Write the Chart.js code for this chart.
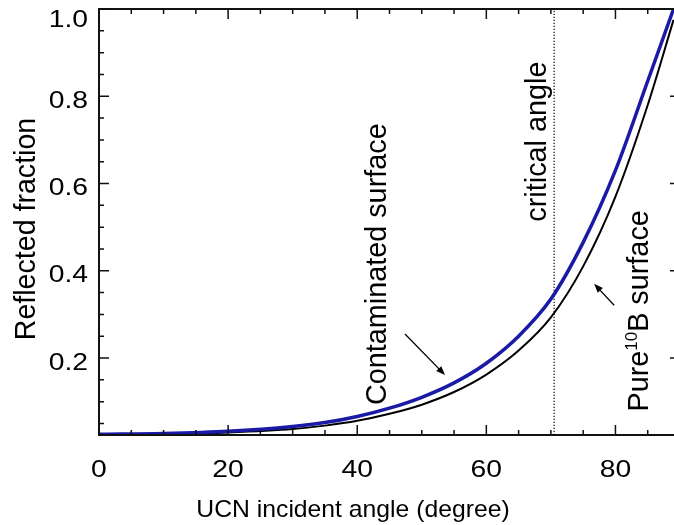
<!DOCTYPE html>
<html>
<head>
<meta charset="utf-8">
<script src="https://cdn.jsdelivr.net/npm/chart.js@4.4.1/dist/chart.umd.min.js"></script>
<style>
html,body{margin:0;padding:0;background:#fff;overflow:hidden;}
#wrap{width:690px;height:525px;}
</style>
</head>
<body>
<div id="wrap"><canvas id="c" width="690" height="525"></canvas></div>
<script>
// ---- data ----
const angles       = [0, 10, 20, 30, 35, 40, 45, 50, 55, 60, 65, 70, 75, 80, 85, 89];
const contaminated = [0.025, 0.027, 0.032, 0.043, 0.052, 0.066, 0.085, 0.110, 0.143, 0.188, 0.250, 0.335, 0.465, 0.630, 0.835, 1.000];
const pure10B      = [0.024, 0.025, 0.029, 0.037, 0.045, 0.056, 0.072, 0.093, 0.122, 0.162, 0.217, 0.293, 0.410, 0.570, 0.780, 0.975];
const criticalAngle = 70.5;
const xTickValues = [0, 20, 40, 60, 80];
const yTickValues = [0.2, 0.4, 0.6, 0.8, 1.0];
const xMinorStep = 5;
const yMinorStep = 0.05;
const xTitle = 'UCN incident angle (degree)';
const yTitle = 'Reflected fraction';

const FONT = '"Liberation Sans", Arial, Helvetica, sans-serif';

function drawArrow(ctx, x1, y1, x2, y2) {
  const ang = Math.atan2(y2 - y1, x2 - x1);
  const hl = 9, hw = 3.5;
  ctx.save();
  ctx.strokeStyle = '#000'; ctx.fillStyle = '#000'; ctx.lineWidth = 1.3;
  ctx.beginPath(); ctx.moveTo(x1, y1);
  ctx.lineTo(x2 - Math.cos(ang) * hl * 0.8, y2 - Math.sin(ang) * hl * 0.8); ctx.stroke();
  ctx.translate(x2, y2); ctx.rotate(ang);
  ctx.beginPath(); ctx.moveTo(0, 0); ctx.lineTo(-hl, -hw); ctx.lineTo(-hl, hw); ctx.closePath(); ctx.fill();
  ctx.restore();
}

function rotatedText(ctx, parts, bx, cy, size) {
  ctx.save();
  ctx.translate(bx, cy);
  ctx.rotate(-Math.PI / 2);
  ctx.fillStyle = '#000';
  ctx.textBaseline = 'alphabetic';
  ctx.textAlign = 'left';
  let total = 0;
  parts.forEach(p => {
    ctx.font = (p.sup ? Math.round(size * 0.6) : size) + 'px ' + FONT;
    p.w = ctx.measureText(p.t).width; total += p.w;
  });
  let x = -total / 2;
  parts.forEach(p => {
    ctx.font = (p.sup ? Math.round(size * 0.6) : size) + 'px ' + FONT;
    ctx.fillText(p.t, x, p.sup ? -size * 0.38 : 0);
    x += p.w;
  });
  ctx.restore();
}

// text with a slight horizontal stretch (reference glyphs are wider)
function wideText(ctx, text, x, y, size, align, stretch) {
  ctx.save();
  ctx.translate(x, y);
  ctx.scale(stretch, 1);
  ctx.font = size + 'px ' + FONT;
  ctx.fillStyle = '#000';
  ctx.textAlign = align;
  ctx.textBaseline = 'alphabetic';
  ctx.fillText(text, 0, 0);
  ctx.restore();
}

const decor = {
  id: 'decor',
  beforeDatasetsDraw(chart) {
    const { ctx, chartArea: a, scales: { x } } = chart;
    const px = x.getPixelForValue(criticalAngle);
    ctx.save();
    ctx.strokeStyle = '#000'; ctx.lineWidth = 1.2;
    ctx.setLineDash([1.2, 1.8]);
    ctx.beginPath(); ctx.moveTo(px, a.bottom); ctx.lineTo(px, a.top); ctx.stroke();
    ctx.restore();
  },
  afterDatasetsDraw(chart) {
    const { ctx, chartArea: a, scales: { x, y } } = chart;
    ctx.save();
    ctx.strokeStyle = '#111'; ctx.lineWidth = 2;
    ctx.strokeRect(a.left, a.top, a.right - a.left, a.bottom - a.top);
    ctx.lineWidth = 1.5;
    ctx.beginPath();
    for (let v = 0; v <= x.max + 1e-9; v += xMinorStep) {
      const p = x.getPixelForValue(v);
      const len = xTickValues.includes(v) ? 10 : 5;
      ctx.moveTo(p, a.bottom); ctx.lineTo(p, a.bottom - len);
      ctx.moveTo(p, a.top); ctx.lineTo(p, a.top + len);
    }
    for (let k = 1; k * yMinorStep <= y.max + 1e-9; k++) {
      const v = k * yMinorStep;
      const p = y.getPixelForValue(v);
      const major = yTickValues.some(t => Math.abs(t - v) < 1e-6);
      const len = major ? 10 : 5;
      ctx.moveTo(a.left, p); ctx.lineTo(a.left + len, p);
      ctx.moveTo(a.right, p); ctx.lineTo(a.right - len, p);
    }
    ctx.stroke();
    ctx.restore();

    // tick labels from the scales' ticks
    x.ticks.forEach(t => {
      wideText(ctx, String(t.value), x.getPixelForValue(t.value), a.bottom + 42, 24, 'center', 1.18);
    });
    y.ticks.forEach(t => {
      const p = y.getPixelForValue(t.value);
      wideText(ctx, Number(t.value).toFixed(1), a.left - 11, Math.max(p + 11.5, a.top + 18), 24, 'right', 1.18);
    });

    // axis titles
    wideText(ctx, xTitle, 353, 517, 24, 'center', 1.03);
    rotatedText(ctx, [{ t: yTitle }], 35, 229, 28.6);

    const X = v => x.getPixelForValue(v), Y = v => y.getPixelForValue(v);
    rotatedText(ctx, [{ t: 'Contaminated surface' }], X(44.5), Y(0.415), 28.8);
    rotatedText(ctx, [{ t: 'critical angle' }], X(69.3), Y(0.696), 28.8);
    rotatedText(ctx, [{ t: 'Pure' }, { t: '10', sup: true }, { t: 'B surface' }], X(85.1), Y(0.308), 28.8);
    drawArrow(ctx, X(47.4), Y(0.255), X(53.6), Y(0.161));
    drawArrow(ctx, X(79.8), Y(0.321), X(76.7), Y(0.370));
  }
};

const toPts = ys => angles.map((a, i) => ({ x: a, y: ys[i] }));

new Chart(document.getElementById('c'), {
  type: 'line',
  data: {
    datasets: [
      { label: 'Contaminated surface', data: toPts(contaminated), borderColor: '#1a1aa6', borderWidth: 3.5,
        pointRadius: 0, cubicInterpolationMode: 'monotone', fill: false, order: 0 },
      { label: 'Pure 10B surface', data: toPts(pure10B), borderColor: '#000', borderWidth: 2,
        pointRadius: 0, cubicInterpolationMode: 'monotone', fill: false, order: 1 }
    ]
  },
  options: {
    responsive: false,
    animation: false,
    devicePixelRatio: 1,
    layout: { padding: { top: 9, right: 10, left: 0, bottom: 0 } },
    plugins: { legend: { display: false }, tooltip: { enabled: false } },
    scales: {
      x: {
        type: 'linear', min: 0, max: 90,
        afterBuildTicks: s => { s.ticks = xTickValues.map(v => ({ value: v })); },
        afterFit: s => { s.height = 90; s.paddingLeft = 0; s.paddingRight = 0; },
        ticks: { display: false },
        grid: { display: false, drawTicks: false },
        border: { display: false },
        title: { display: false }
      },
      y: {
        type: 'linear', min: 0.0235, max: 1.0,
        afterBuildTicks: s => { s.ticks = yTickValues.map(v => ({ value: v })); },
        afterFit: s => { s.width = 99; s.paddingTop = 0; s.paddingBottom = 0; },
        ticks: { display: false },
        grid: { display: false, drawTicks: false },
        border: { display: false },
        title: { display: false }
      }
    }
  },
  plugins: [decor]
});
</script>
</body>
</html>
